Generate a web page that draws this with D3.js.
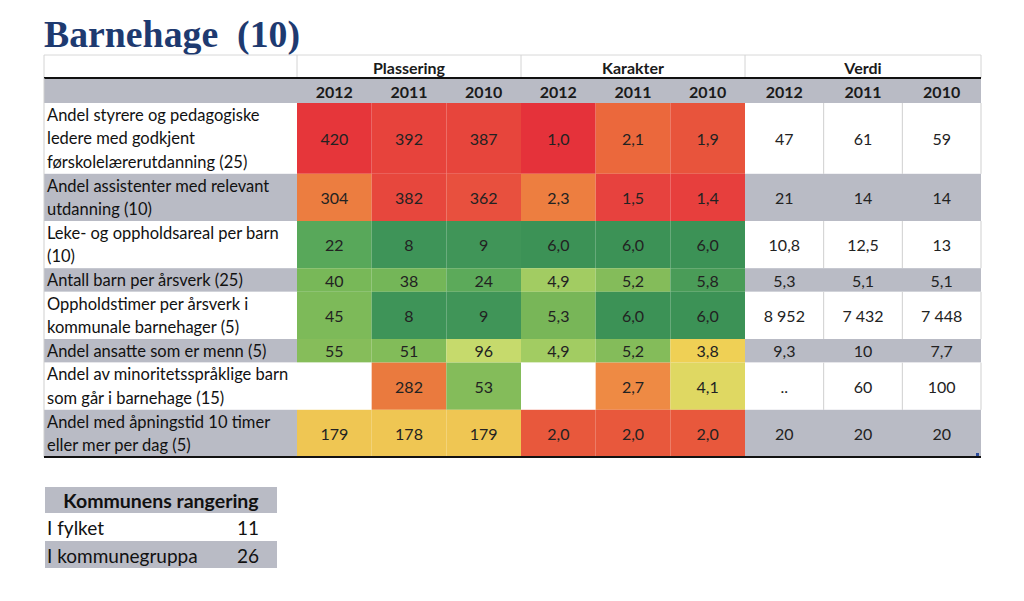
<!DOCTYPE html>
<html><head><meta charset="utf-8">
<script src="https://cdn.jsdelivr.net/npm/d3@7"></script>
<style>body{margin:0;background:#fff}svg{display:block}</style>
</head><body>
<svg id="c" width="1024" height="601"></svg>
<script>
// ---------- data ----------
const title = "Barnehage  (10)";
const groups = ["Plassering", "Karakter", "Verdi"];
const years = ["2012", "2011", "2010"];
const rowLabels = [
  ["Andel styrere og pedagogiske", "ledere med godkjent", "førskolelærerutdanning (25)"],
  ["Andel assistenter med relevant", "utdanning (10)"],
  ["Leke- og oppholdsareal per barn", "(10)"],
  ["Antall barn per årsverk (25)"],
  ["Oppholdstimer per årsverk i", "kommunale barnehager (5)"],
  ["Andel ansatte som er menn (5)"],
  ["Andel av minoritetsspråklige barn", "som går i barnehage (15)"],
  ["Andel med åpningstid 10 timer", "eller mer per dag (5)"]
];
const plassering2012 = [420, 304, 22, 40, 45, 55, null, 179];
const plassering2011 = [392, 382, 8, 38, 8, 51, 282, 178];
const plassering2010 = [387, 362, 9, 24, 9, 96, 53, 179];
const karakter2012 = [1.0, 2.3, 6.0, 4.9, 5.3, 4.9, null, 2.0];
const karakter2011 = [2.1, 1.5, 6.0, 5.2, 6.0, 5.2, 2.7, 2.0];
const karakter2010 = [1.9, 1.4, 6.0, 5.8, 6.0, 3.8, 4.1, 2.0];
const verdi2012 = [47, 21, 10.8, 5.3, 8952, 9.3, null, 20];
const verdi2011 = [61, 14, 12.5, 5.1, 7432, 10, 60, 20];
const verdi2010 = [59, 14, 13, 5.1, 7448, 7.7, 100, 20];
const rankLabels = ["I fylket", "I kommunegruppa"];
const rankValues = [11, 26];
const rankTitle = "Kommunens rangering";

// ---------- setup ----------
const svg = d3.select("#c");
const FONT = "Lato, 'Open Sans', sans-serif";
const GRAY = "#b9bbc5";
const loc = d3.formatLocale({decimal: ",", thousands: "\u00a0", grouping: [3], currency: ["", ""]});
const fInt = loc.format(",d"), f1 = loc.format(",.1f");
const fmtVerdi = v => v == null ? ".." : (Number.isInteger(v) ? fInt(v) : f1(v));
const fmtKar = v => v == null ? "" : f1(v);
const fmtPl = v => v == null ? "" : fInt(v);

const plColor = d3.scaleLinear()
  .domain([8, 22, 40, 55, 96, 179, 282, 304, 362, 420])
  .range(["#3e9458", "#58a85a", "#78b858", "#86bd5a", "#c6da6c", "#efc653", "#ea7a3e", "#ec7d40", "#e8503e", "#e6363a"])
  .clamp(true);
const karColor = d3.scaleLinear()
  .domain([1.0, 1.5, 2.0, 2.1, 2.3, 2.7, 3.8, 4.1, 4.9, 5.2, 5.3, 5.8, 6.0])
  .range(["#e5323a", "#e7423e", "#e8583c", "#eb683c", "#ed7e40", "#ee8a44", "#efd055", "#dfd862", "#a2cc62", "#84bc5a", "#78b658", "#4a9c58", "#3c9256"])
  .clamp(true);

// ---------- layout ----------
const left = 44, labelRight = 297, heatRight = 745, right = 981;
const lineH = 23.6;
const heatCols = [
  {g: 0, y: 0, vals: plassering2012}, {g: 0, y: 1, vals: plassering2011}, {g: 0, y: 2, vals: plassering2010},
  {g: 1, y: 0, vals: karakter2012}, {g: 1, y: 1, vals: karakter2011}, {g: 1, y: 2, vals: karakter2010}
];
const verdiCols = [verdi2012, verdi2011, verdi2010];
const xHeat = d3.scaleBand().domain(d3.range(6)).range([labelRight, heatRight]);
const xVerdi = d3.scaleBand().domain(d3.range(3)).range([heatRight, right]);

const rowTop0 = 103;
const rowH = rowLabels.map(l => l.length * lineH);
const rowY = [];
rowH.reduce((acc, h, i) => { rowY[i] = acc; return acc + h; }, rowTop0);
const tableBottom = rowY[rowY.length - 1] + rowH[rowH.length - 1];

// title
svg.append("text").attr("x", 44).attr("y", 47)
  .attr("font-family", "'Liberation Serif', 'DejaVu Serif', serif")
  .attr("font-weight", "bold").attr("font-size", 37)
  .attr("fill", "#1e3a70").attr("xml:space", "preserve")
  .style("white-space", "pre")
  .attr("textLength", 256).attr("lengthAdjust", "spacingAndGlyphs")
  .text(title);

// header row 1
const hTop = 55, hMid = 78, hBot = rowTop0;
svg.append("line").attr("x1", left).attr("x2", right).attr("y1", hTop).attr("y2", hTop).attr("stroke", "#d8d8d8");
[left, labelRight, xHeat(3), heatRight, right].forEach(x =>
  svg.append("line").attr("x1", x).attr("x2", x).attr("y1", hTop).attr("y2", hMid).attr("stroke", "#d4d4d4"));
const groupX = [[labelRight, xHeat(3)], [xHeat(3), heatRight], [heatRight, right]];
groups.forEach((g, i) => {
  svg.append("text").attr("x", (groupX[i][0] + groupX[i][1]) / 2).attr("y", 67)
    .attr("text-anchor", "middle").attr("dominant-baseline", "central")
    .attr("font-family", FONT).attr("font-weight", "bold").attr("font-size", 16).attr("fill", "#1a1a1a").text(g);
});
// year row
svg.append("rect").attr("x", left).attr("y", hMid).attr("width", right - left).attr("height", hBot - hMid).attr("fill", GRAY);
svg.append("line").attr("x1", left).attr("x2", right).attr("y1", hMid).attr("y2", hMid).attr("stroke", "#111").attr("stroke-width", 2);
heatCols.forEach((c, i) => {
  svg.append("text").attr("x", xHeat(i) + xHeat.bandwidth() / 2).attr("y", 91.5)
    .attr("text-anchor", "middle").attr("dominant-baseline", "central")
    .attr("font-family", FONT).attr("font-weight", "bold").attr("font-size", 16).attr("fill", "#1a1a1a").text(years[c.y]);
});
verdiCols.forEach((c, i) => {
  svg.append("text").attr("x", xVerdi(i) + xVerdi.bandwidth() / 2).attr("y", 91.5)
    .attr("text-anchor", "middle").attr("dominant-baseline", "central")
    .attr("font-family", FONT).attr("font-weight", "bold").attr("font-size", 16).attr("fill", "#1a1a1a").text(years[i]);
});

// data rows
rowLabels.forEach((lines, r) => {
  const y0 = rowY[r], h = rowH[r], cy = y0 + h / 2;
  const gray = r % 2 === 1;
  svg.append("rect").attr("x", left).attr("y", y0).attr("width", labelRight - left).attr("height", h)
    .attr("fill", gray ? GRAY : "#fff");
  svg.append("rect").attr("x", heatRight).attr("y", y0).attr("width", right - heatRight).attr("height", h)
    .attr("fill", gray ? GRAY : "#fff");
  lines.forEach((ln, k) => {
    svg.append("text").attr("x", 47).attr("y", cy + (k - (lines.length - 1) / 2) * lineH)
      .attr("dominant-baseline", "central")
      .attr("font-family", FONT).attr("font-size", 16.5).attr("fill", "#111").text(ln);
  });
  heatCols.forEach((c, i) => {
    const v = c.vals[r];
    const fill = v == null ? "#fff" : (c.g === 0 ? plColor(v) : karColor(v));
    svg.append("rect").attr("x", xHeat(i)).attr("y", y0).attr("width", xHeat.bandwidth()).attr("height", h).attr("fill", fill);
    svg.append("text").attr("x", xHeat(i) + xHeat.bandwidth() / 2).attr("y", cy)
      .attr("text-anchor", "middle").attr("dominant-baseline", "central")
      .attr("font-family", FONT).attr("font-size", 16).attr("fill", "#222")
      .text(c.g === 0 ? fmtPl(v) : fmtKar(v));
  });
  verdiCols.forEach((vals, i) => {
    if (!gray) {
      svg.append("line").attr("x1", xVerdi(i) + xVerdi.bandwidth()).attr("x2", xVerdi(i) + xVerdi.bandwidth())
        .attr("y1", y0).attr("y2", y0 + h).attr("stroke", "#cfcfcf");
    }
    svg.append("text").attr("x", xVerdi(i) + xVerdi.bandwidth() / 2).attr("y", cy)
      .attr("text-anchor", "middle").attr("dominant-baseline", "central")
      .attr("font-family", FONT).attr("font-size", 16).attr("fill", "#222").text(fmtVerdi(vals[r]));
  });
});
svg.append("line").attr("x1", left).attr("x2", left).attr("y1", hMid).attr("y2", tableBottom).attr("stroke", "#cfcfcf");
svg.append("line").attr("x1", left).attr("x2", right).attr("y1", tableBottom).attr("y2", tableBottom).attr("stroke", "#111").attr("stroke-width", 2);
svg.append("rect").attr("x", right - 5).attr("y", tableBottom - 4).attr("width", 3).attr("height", 3).attr("fill", "#2a4a9a");

// ranking table
const rl = 45, rr = 277;
svg.append("rect").attr("x", rl).attr("y", 487).attr("width", rr - rl).attr("height", 26).attr("fill", GRAY);
svg.append("text").attr("x", (rl + rr) / 2).attr("y", 500).attr("text-anchor", "middle").attr("dominant-baseline", "central")
  .attr("font-family", FONT).attr("font-weight", "bold").attr("font-size", 19.5).attr("fill", "#111").text(rankTitle);
rankLabels.forEach((lab, i) => {
  const y0 = 513 + i * 28;
  svg.append("rect").attr("x", rl).attr("y", y0).attr("width", rr - rl).attr("height", 27).attr("fill", i % 2 ? GRAY : "#fff");
  svg.append("text").attr("x", 47).attr("y", y0 + 14).attr("dominant-baseline", "central")
    .attr("font-family", FONT).attr("font-size", 19).attr("fill", "#111").text(lab);
  svg.append("text").attr("x", 259).attr("y", y0 + 14).attr("text-anchor", "end").attr("dominant-baseline", "central")
    .attr("font-family", FONT).attr("font-size", 19).attr("fill", "#111").text(rankValues[i]);
});
</script>
</body></html>
